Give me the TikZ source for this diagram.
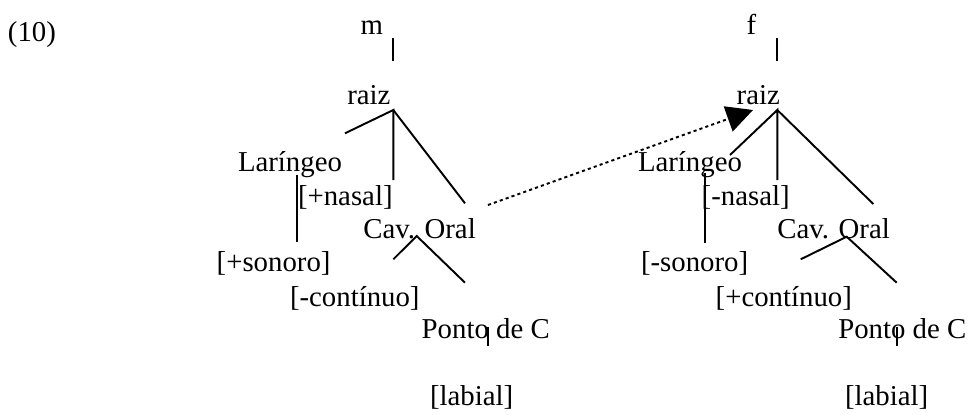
\documentclass[tikz,border=0pt]{standalone}
\usepackage{fontspec}
\setmainfont{Liberation Serif}
\usetikzlibrary{arrows.meta}
\begin{document}
\begin{tikzpicture}[x=0.4167pt,y=-0.4167pt,
  lbl/.style={anchor=base west,inner sep=0pt,outer sep=0pt,font=\fontsize{12pt}{14pt}\selectfont},
  branch/.style={line width=0.8pt},
  assim/.style={line width=0.8pt,dash pattern=on 1.3pt off 1.3pt,-{Triangle[length=11pt,width=11pt]}}]
\useasboundingbox (0,0) rectangle (968,414);
% texts
\node[lbl] (ex) at (8,41) {(10)};
\node[lbl] (mL) at (360.7,35) {m};
\node[lbl] (fR) at (746.7,35) {f};
\node[lbl] (raizL) at (347.3,104) {raiz};
\node[lbl] (raizR) at (736.7,104) {raiz};
\node[lbl] (larL) at (238,171.7) {Laríngeo};
\node[lbl] (larR) at (638,171.7) {Laríngeo};
\node[lbl] (nasL) at (298,205) {[+nasal]};
\node[lbl] (nasR) at (701.7,205) {[-nasal]};
\node[lbl] (cavL) at (363.3,238.3) {Cav. Oral};
\node[lbl] (cavR) at (777.3,238.3) {Cav. Oral};
\node[lbl] (sonL) at (216.7,271) {[+sonoro]};
\node[lbl] (sonR) at (641,271) {[-sonoro]};
\node[lbl] (conL) at (290,306.7) {[-contínuo]};
\node[lbl] (conR) at (715.7,306.7) {[+contínuo]};
\node[lbl] (pcL) at (421.7,338.3) {Ponto de C};
\node[lbl] (pcR) at (838.3,338.3) {Ponto de C};
\node[lbl] (labL) at (430,405) {[labial]};
\node[lbl] (labR) at (845,405) {[labial]};
% left tree points
\coordinate (mTop) at (393.3,38);
\coordinate (mBot) at (393.3,61);
\coordinate (rootL) at (393.3,110);
\coordinate (larEndL) at (345,133.3);
\coordinate (nasEndL) at (393.3,180);
\coordinate (cavEndL) at (465,203.3);
\coordinate (larTopL) at (296.7,175);
\coordinate (larBotL) at (296.7,241.7);
\coordinate (cavApexL) at (416.7,236);
\coordinate (conEndL) at (393.3,259.3);
\coordinate (pcEndL) at (465,282.7);
\coordinate (pcTopL) at (488.3,326.7);
\coordinate (pcBotL) at (488.3,345.7);
% right tree points
\coordinate (fTop) at (777.3,38);
\coordinate (fBot) at (777.3,61);
\coordinate (rootR) at (777.3,110);
\coordinate (larEndR) at (730,155);
\coordinate (nasEndR) at (777.3,180);
\coordinate (cavEndR) at (873.3,204);
\coordinate (larTopR) at (705,173.3);
\coordinate (larBotR) at (705,242.7);
\coordinate (cavApexR) at (846.7,236.7);
\coordinate (conEndR) at (800.7,259.3);
\coordinate (pcEndR) at (896.7,282.7);
\coordinate (pcTopR) at (897.3,326.7);
\coordinate (pcBotR) at (897.3,345.7);
% arrow points
\coordinate (arrStart) at (488,205);
\coordinate (arrTip) at (753,110);
% left tree
\draw[branch] (mTop) -- (mBot);
\draw[branch] (larEndL) -- (rootL) -- (nasEndL);
\draw[branch] (rootL) -- (cavEndL);
\draw[branch] (larTopL) -- (larBotL);
\draw[branch] (conEndL) -- (cavApexL) -- (pcEndL);
\draw[branch] (pcTopL) -- (pcBotL);
% right tree
\draw[branch] (fTop) -- (fBot);
\draw[branch] (larEndR) -- (rootR) -- (nasEndR);
\draw[branch] (rootR) -- (cavEndR);
\draw[branch] (larTopR) -- (larBotR);
\draw[branch] (conEndR) -- (cavApexR) -- (pcEndR);
\draw[branch] (pcTopR) -- (pcBotR);
% spreading arrow
\draw[assim] (arrStart) -- (arrTip);
\end{tikzpicture}
\end{document}
